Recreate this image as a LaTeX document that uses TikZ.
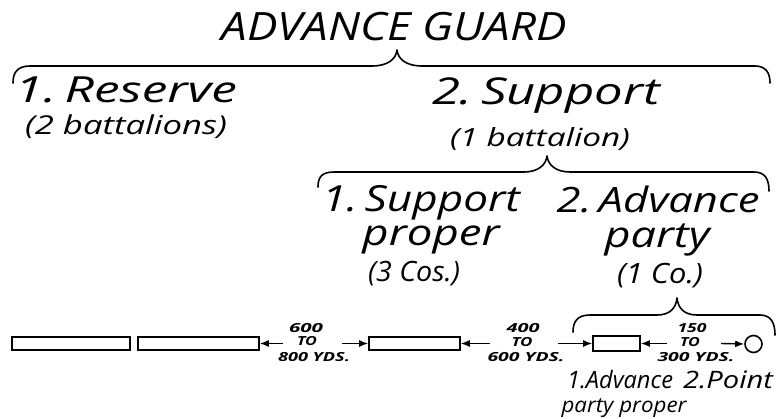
\documentclass[tikz,border=0pt]{standalone}
\usepackage{fontspec}
\setmainfont{Open Sans}
\usetikzlibrary{arrows.meta}
\newcommand\fw[2]{\resizebox{#1pt}{\height}{#2}}
\newcommand\fsz[1]{\fontsize{#1}{#1}\selectfont\itshape}
\begin{document}
\begin{tikzpicture}[x=1pt,y=-1pt,
  lab/.style={inner sep=0pt, anchor=base},
  dlab/.style={inner sep=0pt, anchor=base, font=\fsz{12.5}\bfseries},
  unitbox/.style={draw, line width=1.6pt, inner sep=0pt, minimum height=13pt},
  dist/.style={-{Latex[length=9pt,width=7pt]}, line width=1.4pt},
  bracepath/.style={line width=1.6pt, line cap=round, line join=round}]
\useasboundingbox (0,0) rectangle (776,419);

% braces
\draw[bracepath] (13,83) .. controls (13,73) and (17,66) .. (30,66) -- (372,66)
  .. controls (388,66) and (396,59) .. (397,50)
  .. controls (398,59) and (406,66) .. (422,66) -- (755,66)
  .. controls (766,66) and (770,73) .. (770,83);
\draw[bracepath] (318,187) .. controls (318,177) and (322,172) .. (334,172) -- (524,172)
  .. controls (538,172) and (546,165) .. (547,156)
  .. controls (548,165) and (556,172) .. (570,172) -- (754,172)
  .. controls (765,172) and (769,179) .. (769,191);
\draw[bracepath] (573,332) .. controls (573,322) and (577,315) .. (590,315) -- (657,315)
  .. controls (670,315) and (676,308) .. (677,298)
  .. controls (678,308) and (684,315) .. (697,315) -- (760,315)
  .. controls (771,315) and (775,323) .. (775,335);

% labels
\node[lab, font=\fsz{39}] (ag) at (394,41) {\fw{345}{ADVANCE GUARD}};
\node[lab, font=\fsz{36}] (res) at (126,103) {\fw{222}{1.\,Reserve}};
\node[lab, font=\fsz{26}] (resn) at (126,135) {\fw{202}{(2 battalions)}};
\node[lab, font=\fsz{37}] (sup) at (546,105) {\fw{228}{2.\,Support}};
\node[lab, font=\fsz{25}] (supn) at (540,147) {\fw{180}{(1 battalion)}};
\node[lab, font=\fsz{36}] (sp1) at (421,212) {\fw{198}{1.\,Support}};
\node[lab, font=\fsz{36}] (sp2) at (431,246) {\fw{137}{proper}};
\node[lab, font=\fsz{28}] (spn) at (414,282) {\fw{92}{(3 Cos.)}};
\node[lab, font=\fsz{35}] (ap1) at (658,213) {\fw{203}{2.\,Advance}};
\node[lab, font=\fsz{36}] (ap2) at (657,248) {\fw{105}{party}};
\node[lab, font=\fsz{28}] (apn) at (660,284) {\fw{86}{(1 Co.)}};

\node[dlab] (d1a) at (306,333) {\fw{34}{600}};
\node[dlab] (d1b) at (307,346) {\fw{20}{TO}};
\node[dlab] (d1c) at (314,362) {\fw{72}{800 YDS.}};
\node[dlab] (d2a) at (523,333) {\fw{33}{400}};
\node[dlab] (d2b) at (522,347) {\fw{21}{TO}};
\node[dlab] (d2c) at (526,362) {\fw{77}{600 YDS.}};
\node[dlab] (d3a) at (692,333) {\fw{29}{150}};
\node[dlab] (d3b) at (690,347) {\fw{20}{TO}};
\node[dlab] (d3c) at (696,362) {\fw{77}{300 YDS.}};

\node[lab, font=\fsz{24}] (b1) at (620,388) {\fw{106}{1.Advance}};
\node[lab, font=\fsz{24}] (b2) at (728,388) {\fw{90}{2.Point}};
\node[lab, font=\fsz{21}] (b3) at (624,412) {\fw{125}{party proper}};

% units
\node[unitbox, minimum width=118pt] (r1) at (71,343.5) {};
\node[unitbox, minimum width=121pt] (r2) at (198.5,343.5) {};
\node[unitbox, minimum width=91pt] (r3) at (414.5,343.5) {};
\node[unitbox, minimum width=47pt, minimum height=15pt] (r4) at (616.5,343.5) {};
\node[draw, circle, line width=1.6pt, minimum size=17pt, inner sep=0pt] (pt) at (753.5,344) {};

% distance arrows
\coordinate (a1) at (283,343.5);
\coordinate (a2) at (342,343.5);
\coordinate (a3) at (490,343.5);
\coordinate (a4) at (558,343.5);
\coordinate (a5) at (667,343.5);
\coordinate (a6) at (721,343.5);
\draw[dist] (a1) -- (r2.east);
\draw[dist] (a2) -- (r3.west);
\draw[dist] (a3) -- (r3.east);
\draw[dist] (a4) -- (r4.west);
\draw[dist] (a5) -- (r4.east);
\draw[dist] (a6) -- (pt.west);
\end{tikzpicture}
\end{document}
